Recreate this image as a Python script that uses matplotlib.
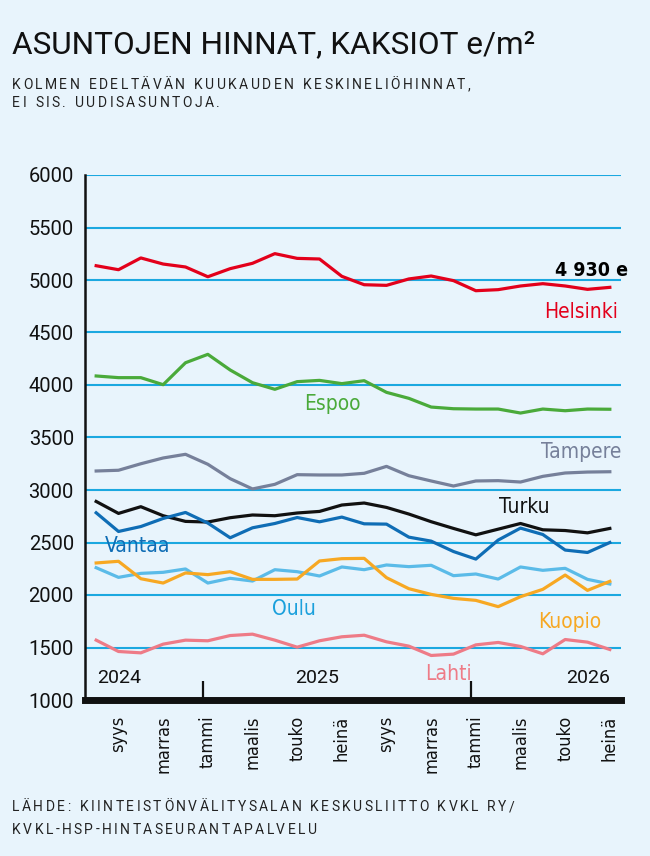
import matplotlib.pyplot as plt

# kuukaudet elo 2024 - heinä 2026
MONTHS = ["elo", "syys", "loka", "marras", "joulu", "tammi", "helmi", "maalis", "huhti", "touko", "kesä", "heinä",
          "elo", "syys", "loka", "marras", "joulu", "tammi", "helmi", "maalis", "huhti", "touko", "kesä", "heinä"]
YEARS = ["2024", "2025", "2026"]

helsinki = [5136, 5098, 5210, 5152, 5124, 5031, 5108, 5159, 5251, 5206, 5200, 5035,
            4955, 4949, 5010, 5038, 4994, 4898, 4908, 4943, 4965, 4943, 4911, 4930]
espoo = [4086, 4070, 4070, 4003, 4212, 4292, 4143, 4022, 3959, 4032, 4044, 4013,
         4041, 3930, 3873, 3790, 3774, 3771, 3771, 3733, 3771, 3755, 3771, 3769]
tampere = [3181, 3188, 3250, 3305, 3340, 3245, 3108, 3010, 3054, 3146, 3143, 3143,
           3159, 3225, 3136, 3086, 3038, 3086, 3089, 3076, 3130, 3162, 3171, 3174]
turku = [2891, 2777, 2841, 2755, 2701, 2695, 2736, 2762, 2755, 2781, 2796, 2857,
         2876, 2834, 2771, 2698, 2634, 2573, 2627, 2681, 2621, 2614, 2592, 2634]
vantaa = [2783, 2605, 2652, 2729, 2786, 2685, 2545, 2640, 2681, 2738, 2697, 2742,
          2678, 2675, 2551, 2513, 2414, 2342, 2523, 2637, 2576, 2428, 2405, 2500]
oulu = [2260, 2168, 2206, 2216, 2248, 2114, 2159, 2133, 2241, 2222, 2181, 2267,
        2241, 2286, 2270, 2283, 2184, 2200, 2152, 2267, 2235, 2254, 2149, 2105]
kuopio = [2305, 2321, 2155, 2114, 2210, 2194, 2222, 2149, 2149, 2152, 2324, 2346,
          2349, 2165, 2060, 2006, 1968, 1949, 1889, 1984, 2054, 2190, 2044, 2130]
lahti = [1570, 1462, 1449, 1532, 1570, 1564, 1614, 1627, 1570, 1503, 1564, 1602,
         1617, 1554, 1513, 1424, 1437, 1525, 1548, 1510, 1440, 1576, 1551, 1481]

BG = "#e8f4fc"
GRID = "#1ba8e0"
INK = "#111111"
FONT = ["Roboto", "DejaVu Sans"]
NARROW = dict(family=["DejaVu Sans"], fontstretch="condensed")

# (nimi, data, viivan väri, tekstin väri, tekstin paikka x, y)
series = [
    ("Helsinki", helsinki, "#e3001b", "#e3001b", 21.73, 4695),
    ("Espoo", espoo, "#4aaa3a", "#4aaa3a", 10.57, 3819),
    ("Tampere", tampere, "#76809a", "#76809a", 21.73, 3362),
    ("Turku", turku, "#111111", "#111111", 19.18, 2840),
    ("Vantaa", vantaa, "#0f6db5", "#0f6db5", 1.86, 2469),
    ("Oulu", oulu, "#5bbbe8", "#1ba0dc", 8.87, 1867),
    ("Kuopio", kuopio, "#f7a823", "#f7a823", 21.21, 1743),
    ("Lahti", lahti, "#ee7b87", "#ee7b87", 15.79, 1252),
]


def spaced_text(fig, x_px, y_px, s, gap=2.45, space=4.0, **kw):
    # harvennettu teksti: merkit yksi kerrallaan
    renderer = fig.canvas.get_renderer()
    x = x_px
    for ch in s:
        if ch == " ":
            x += space + gap
            continue
        t = fig.text(x / 650, 1 - y_px / 856, ch, ha="left", va="baseline", **kw)
        bb = t.get_window_extent(renderer)
        x = bb.x1 + gap


def main():
    plt.rcParams["font.family"] = FONT
    fig = plt.figure(figsize=(6.5, 8.56), dpi=100, facecolor=BG)
    ax = fig.add_axes([85 / 650, 1 - 700 / 856, 536 / 650, 525 / 856])
    ax.set_facecolor(BG)

    x = list(range(len(MONTHS)))
    ax.set_xlim(-0.5, 23.5)
    ax.set_ylim(1000, 6000)

    for v in range(1500, 6001, 500):
        ax.axhline(v, color=GRID, linewidth=1.5, zorder=1)

    for name, data, lc, tc, tx, ty in series:
        ax.plot(x, data, color=lc, linewidth=2.3, zorder=3, solid_joinstyle="round")
        ax.text(tx, ty, name, color=tc, fontsize=15, ha="center", va="center", zorder=4, **NARROW)

    ax.text(23.8, 5095, f"{helsinki[-1]:,}".replace(",", " ") + " e", fontsize=14,
            fontweight="bold", ha="right", va="center", clip_on=False, **NARROW)

    # vuodet ja vuodenvaihteen merkit
    jan_idx = [i for i, m in enumerate(MONTHS) if m == "tammi"]
    ax.vlines([j - 0.23 for j in jan_idx], 1000, 1180, color=INK, linewidth=1.6, zorder=5)
    for yx, label in zip([1.03, 9.9, 22.04], YEARS):
        ax.text(yx, 1212, label, fontsize=14, ha="center", va="center", color=INK)

    for s in ("top", "right"):
        ax.spines[s].set_visible(False)
    ax.spines["left"].set_linewidth(1.8)
    ax.spines["left"].set_color(INK)
    ax.spines["bottom"].set_linewidth(5)
    ax.spines["bottom"].set_color(INK)
    ax.spines["bottom"].set_zorder(6)

    ax.set_yticks(range(1000, 6001, 500))
    ax.set_yticklabels([str(v) for v in range(1000, 6001, 500)], fontsize=14.5, color=INK)
    ax.set_xticks(x[1::2])
    ax.set_xticklabels(MONTHS[1::2], rotation=90, fontsize=13, color=INK, va="top", **NARROW)
    ax.tick_params(axis="y", length=0, pad=8)
    ax.tick_params(axis="x", length=0, pad=11)

    fig.text(12 / 650, 1 - 53 / 856, "ASUNTOJEN HINNAT, KAKSIOT e/m²", fontsize=22.7,
             color=INK, ha="left", va="baseline")

    sub = dict(fontsize=10, color="#222222")
    spaced_text(fig, 12, 89, "KOLMEN EDELTÄVÄN KUUKAUDEN KESKINELIÖHINNAT,", **sub)
    spaced_text(fig, 12, 107, "EI SIS. UUDISASUNTOJA.", **sub)
    spaced_text(fig, 12, 811, "LÄHDE: KIINTEISTÖNVÄLITYSALAN KESKUSLIITTO KVKL RY/", **sub)
    spaced_text(fig, 12, 834, "KVKL-HSP-HINTASEURANTAPALVELU", **sub)

    fig.savefig("out.png", dpi=100, facecolor=BG)


if __name__ == "__main__":
    main()
